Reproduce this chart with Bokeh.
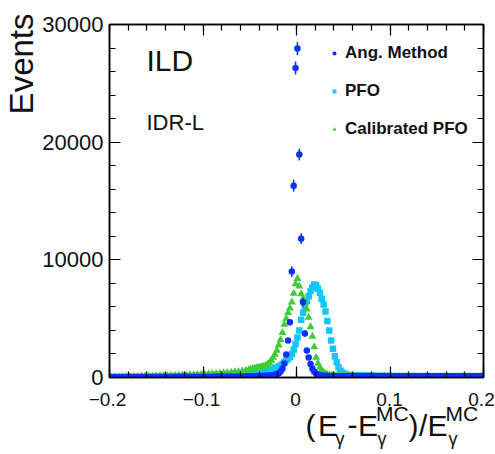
import numpy as np
from bokeh.plotting import figure
from bokeh.layouts import column
from bokeh.models import (FixedTicker, LinearAxis, Label, Legend, LegendItem,
                          Range1d, ColumnDataSource, Title)
from bokeh.embed import file_html
from bokeh.resources import INLINE

# ---------------- data ----------------
# bin centres: coarse left tail, fine core, coarse right tail
x_left_tail = np.round(np.arange(-0.198, -0.0535, 0.004), 4)   # 37 bins
x_core = np.round(np.arange(-0.051, 0.0595, 0.002), 4)          # 56 bins
x_right_tail = np.round(np.arange(0.062, 0.1985, 0.004), 4)     # 35 bins

ang_left = [30, 32, 31, 34, 35, 36, 38, 37, 40, 41, 43, 44, 46, 47, 49, 50, 52, 54, 55,
            57, 59, 61, 63, 65, 67, 69, 71, 73, 75, 78, 80, 83, 85, 88, 91, 94, 97]
ang_core = [100, 105, 110, 115, 120, 125, 130, 135, 140, 150, 160, 170, 185, 205, 240,
            290, 370, 500, 750, 1200, 1950, 3150, 4700, 9000, 16300, 26300, 27950, 18950,
            11800, 6400, 3750, 2300, 1700, 1150, 750, 480, 330, 250, 200, 170, 150, 140,
            130, 125, 120, 118, 115, 112, 110, 108, 106, 105, 104, 103, 102, 100]
ang_right = [130, 127, 132, 128, 125, 129, 126, 131, 124, 128, 125, 127, 123, 129, 126,
             124, 128, 122, 125, 127, 123, 126, 121, 124, 127, 122, 125, 120, 123, 126,
             121, 124, 119, 122, 125]
ang_core_err = [0] * 22 + [250, 450, 500, 550, 560, 500, 450, 380, 280] + [0] * 25

pfo_left = [35, 38, 40, 43, 46, 49, 52, 56, 60, 64, 68, 72, 77, 82, 87, 93, 99, 105, 112,
            119, 127, 135, 144, 153, 163, 174, 185, 197, 210, 224, 239, 255, 272, 290, 320,
            350, 380]
pfo_core = [400, 420, 440, 460, 480, 500, 520, 540, 560, 590, 620, 650, 690, 730, 780,
            850, 930, 1030, 1150, 1300, 1450, 1600, 1750, 2000, 2350, 2850, 3400, 4000,
            4900, 5500, 6000, 6500, 6900, 7350, 7650, 7900, 7850, 7550, 7200, 6700, 6200,
            5600, 4800, 4000, 3150, 2450, 1800, 1300, 880, 600, 420, 320, 260, 220, 200, 185]
pfo_right = [180, 172, 165, 158, 150, 143, 137, 130, 124, 118, 113, 108, 103, 98, 94, 90,
             86, 82, 78, 75, 72, 69, 66, 63, 60, 58, 55, 53, 50, 48, 46, 44, 42, 40, 38]

cal_left = [40, 50, 55, 60, 65, 70, 80, 85, 95, 100, 110, 115, 125, 135, 140, 150, 160,
            170, 180, 190, 200, 215, 230, 245, 260, 280, 300, 320, 340, 360, 385, 410, 440,
            470, 510, 550, 600]
cal_core = [650, 690, 730, 770, 810, 850, 880, 910, 950, 1000, 1100, 1250, 1450, 1700,
            1950, 2300, 2750, 3200, 3800, 4500, 5000, 5500, 5900, 6400, 7150, 7950, 8400,
            7750, 7100, 6700, 6300, 5800, 5100, 4300, 3500, 2600, 1700, 1200, 850, 600, 430,
            320, 250, 210, 190, 175, 165, 155, 150, 145, 140, 135, 130, 128, 125, 122]
cal_right = [118, 112, 105, 98, 92, 85, 78, 72, 66, 60, 55, 50, 45, 40, 36, 32, 28, 25,
             22, 20, 18, 16, 14, 12, 10, 9, 8, 7, 6, 5, 4, 4, 3, 3, 2]

x_ticks = [-0.2, -0.1, 0.0, 0.1, 0.2]
x_tick_labels = ["\u22120.2", "\u22120.1", "0", "0.1", "0.2"]
x_minor = [round(-0.2 + 0.02 * i, 3) for i in range(21)]
y_ticks = [0, 10000, 20000, 30000]
y_tick_labels = ["0", "10000", "20000", "30000"]
y_minor = [2000 * i for i in range(16)]

series_names = ["Ang. Method", "PFO", "Calibrated PFO"]
colors = ["#0a32ff", "#12c6ff", "#3fcc3a"]

# ---------------- layout constants (page pixels) ----------------
W, H = 495, 454
FL, FR, FT, FB = 107, 483, 24, 377     # plot frame edges
H1 = 390                               # height of main figure
H2 = H - H1                            # strip below it (tick labels + title)
FONT = "Liberation Sans"
INK = "#111111"

p = figure(width=W, height=H1, output_backend="svg", toolbar_location=None,
           x_range=Range1d(-0.2, 0.2), y_range=Range1d(0, 30000),
           min_border_left=FL, min_border_right=W - FR, min_border_top=FT,
           min_border_bottom=H1 - FB)
p.frame_align = False
p.grid.visible = False
p.outline_line_color = "black"
p.outline_line_width = 1.5
p.background_fill_color = "white"
p.border_fill_color = "white"

xt = FixedTicker(ticks=x_ticks, minor_ticks=x_minor)
yt = FixedTicker(ticks=y_ticks, minor_ticks=y_minor)


def style_axis(ax, show_labels, fsize="21px", standoff=6):
    ax.axis_line_color = "black"
    ax.axis_line_width = 1.5
    ax.major_tick_in = 11
    ax.major_tick_out = 0
    ax.minor_tick_in = 6
    ax.minor_tick_out = 0
    ax.major_tick_line_width = 1.2
    ax.minor_tick_line_width = 1.2
    ax.major_label_text_font = FONT
    ax.major_label_text_color = INK
    if show_labels:
        ax.major_label_text_font_size = fsize
        ax.major_label_standoff = standoff
    else:
        ax.major_label_text_font_size = "0px"
        ax.major_label_standoff = 0
        ax.major_label_text_alpha = 0


p.xaxis.ticker = xt
p.yaxis.ticker = yt
p.yaxis.major_label_overrides = dict(zip(y_ticks, y_tick_labels))
style_axis(p.xaxis[0], False)
style_axis(p.yaxis[0], True, "22px", 6)

top_ax = LinearAxis(ticker=xt)
right_ax = LinearAxis(ticker=yt)
style_axis(top_ax, False)
style_axis(right_ax, False)
p.add_layout(top_ax, "above")
p.add_layout(right_ax, "right")

# y title, outside the frame on the left, ending near the top
ytitle = Title(text="Events", align="right", offset=-11, standoff=0,
               text_font=FONT, text_font_size="33px", text_font_style="normal",
               text_color=INK)
p.add_layout(ytitle, "left")

# ---------------- data glyphs ----------------
xs = np.concatenate([x_left_tail, x_core, x_right_tail])
src_pfo = ColumnDataSource(dict(x=xs, y=pfo_left + pfo_core + pfo_right))
src_cal = ColumnDataSource(dict(x=xs, y=cal_left + cal_core + cal_right))
src_ang = ColumnDataSource(dict(x=xs, y=ang_left + ang_core + ang_right))

ang_c = np.array(ang_core, dtype=float)
err = np.array(ang_core_err, dtype=float)
src_err = ColumnDataSource(dict(x=x_core, y0=ang_c - err, y1=ang_c + err))

r_pfo = p.scatter("x", "y", source=src_pfo, marker="square", size=6.5,
                  color=colors[1], line_width=0)
r_cal = p.scatter("x", "y", source=src_cal, marker="triangle", size=8,
                  color=colors[2], line_width=0)
p.segment(x0="x", y0="y0", x1="x", y1="y1", source=src_err, color=colors[0],
          line_width=1.5)
r_ang = p.scatter("x", "y", source=src_ang, marker="circle", size=6.5,
                  color=colors[0], line_width=0)

legend = Legend(items=[LegendItem(label=series_names[0], renderers=[r_ang]),
                       LegendItem(label=series_names[1], renderers=[r_pfo]),
                       LegendItem(label=series_names[2], renderers=[r_cal])],
                location=(220, 238))
legend.label_text_font = FONT
legend.label_text_font_style = "bold"
legend.label_text_font_size = "17px"
legend.label_text_color = INK
legend.glyph_width = 10
legend.glyph_height = 20
legend.label_height = 20
legend.label_standoff = 6
legend.spacing = 18
legend.padding = 0
legend.margin = 0
legend.border_line_alpha = 0
legend.background_fill_alpha = 0
p.add_layout(legend)


def mid(baseline_y, size):
    # vertical middle of a text line whose alphabetic baseline is at baseline_y
    return baseline_y - 0.3465 * size


def lab(fig, fl, fb, X, Y, text, size, font=FONT, **kw):
    # Label screen units are measured from the frame's bottom-left corner;
    # X, Y are page pixels, Y is the text baseline
    fig.add_layout(Label(x=X - fl, y=fb - mid(Y, size), x_units="screen",
                         y_units="screen", text=text, text_font=font,
                         text_font_size=f"{size}px", text_color=INK,
                         text_baseline="middle",
                         text_align=kw.pop("align", "left"), **kw))


lab(p, FL, FB, 144, 70, "ILD", 30)
lab(p, FL, FB, 144, 130, "IDR-L", 22)

# ---------------- strip below: x tick labels + x title ----------------
# same horizontal scale as the main frame, but the strip's frame spans the
# whole width so that nothing is clipped
k = (p.x_range.end - p.x_range.start) / (FR - FL)
p2 = figure(width=W, height=H2, output_backend="svg", toolbar_location=None,
            x_range=Range1d(p.x_range.start - FL * k, p.x_range.end + (W - FR) * k),
            y_range=Range1d(0, 1), x_axis_type=None, y_axis_type=None,
            min_border_left=0, min_border_right=0, min_border_top=0,
            min_border_bottom=0)
p2.frame_align = False
p2.grid.visible = False
p2.outline_line_color = None
p2.background_fill_color = "white"
p2.border_fill_color = "white"

TICK_BASE, TICK_SIZE = 406, 19
for i, (tv, tl) in enumerate(zip(x_ticks, x_tick_labels)):
    p2.add_layout(Label(x=tv, y=H - mid(TICK_BASE, TICK_SIZE), x_units="data",
                        y_units="screen", text=tl, text_font=FONT,
                        text_font_size=f"{TICK_SIZE}px", text_color=INK,
                        text_align="center", text_baseline="middle",
                        x_offset=-2 if i == len(x_ticks) - 1 else 0))

# x title: (E_γ - E_γ^MC)/E_γ^MC, pieces placed along the baseline
base_Y, sub_Y, sup_Y = 435, 445, 420
pieces = [(305, base_Y, "(", 30), (317.6, base_Y, "E", 30),
          (335, sub_Y, "\u03b3", 18), (347, base_Y, "-", 30),
          (357.6, base_Y, "E", 30), (375.5, sup_Y, "MC", 21),
          (377, sub_Y, "\u03b3", 18), (408, base_Y, ")", 30),
          (418.5, base_Y, "/", 30), (427, base_Y, "E", 30),
          (445, sup_Y, "MC", 21), (448, sub_Y, "\u03b3", 18)]
for X, Y, t, s in pieces:
    lab(p2, 0, H, X, Y, t, s)

layout = column(p, p2, spacing=0)
open("out.html", "w").write(file_html(layout, INLINE))
